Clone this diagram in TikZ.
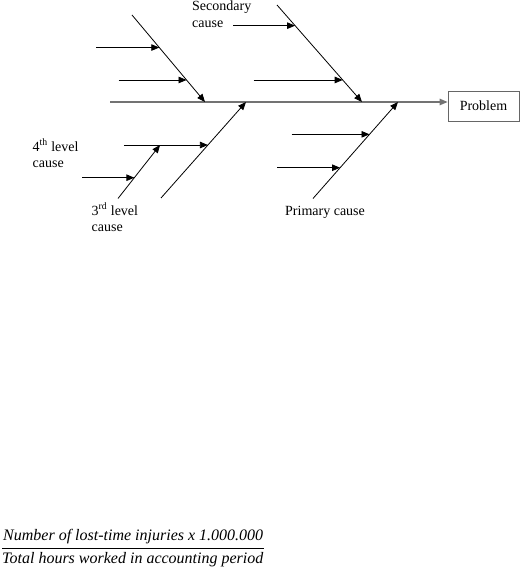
\documentclass[tikz,border=0pt]{standalone}
\usepackage{fontspec}
\setmainfont{Liberation Serif}
\usetikzlibrary{arrows.meta, positioning, calc}

\begin{document}
\begin{tikzpicture}[
    x=1pt, y=-1pt,
    spine/.style={draw=black!55, line width=1.2pt, -{Triangle[length=8pt, width=6.5pt]}},
    arr/.style={-{Triangle[length=8pt, width=6.5pt]}, line width=0.8pt},
    lbl/.style={font=\fontsize{14}{16.5}\selectfont, align=left, inner sep=0pt, anchor=base west},
    probbox/.style={
      rectangle, draw=black!60, line width=0.8pt,
      minimum width=71pt, minimum height=30pt,
      font=\fontsize{14}{16.5}\selectfont, inner sep=0pt
    },
    frac/.style={font=\fontsize{16}{18}\selectfont\itshape, inner sep=0pt, anchor=base west},
  ]
  \useasboundingbox (0,0) rectangle (522,567);

  % Head of the fish and the spine
  \node[probbox] (prob) at (483.5,106) {Problem};
  \coordinate (sp) at (110,102);
  \draw[spine] (sp) -- (sp -| prob.west);

  % Upper left bone with two causes
  \coordinate (ul-a) at (132,15);
  \coordinate (ul-b) at (205,102);
  \draw[arr] (ul-a) -- (ul-b);
  \coordinate (ul-1) at ($(ul-a)!0.374!(ul-b)$);
  \coordinate (ul-2) at ($(ul-a)!0.747!(ul-b)$);
  \draw[arr] ([xshift=-63pt]ul-1) -- (ul-1);
  \draw[arr] ([xshift=-68pt]ul-2) -- (ul-2);

  % Upper right bone (secondary causes)
  \coordinate (ur-a) at (277,5);
  \coordinate (ur-b) at (362,102);
  \draw[arr] (ur-a) -- (ur-b);
  \coordinate (ur-1) at ($(ur-a)!0.213!(ur-b)$);
  \coordinate (ur-2) at ($(ur-a)!0.773!(ur-b)$);
  \draw[arr] ([xshift=-62pt]ur-1) -- (ur-1);
  \draw[arr] ([xshift=-89pt]ur-2) -- (ur-2);

  % Lower left bone, with a 3rd and a 4th level cause
  \coordinate (ll-a) at (161,198);
  \coordinate (ll-b) at (246,102);
  \draw[arr] (ll-a) -- (ll-b);
  \coordinate (ll-1) at ($(ll-a)!0.552!(ll-b)$);
  \coordinate (ll-1s) at ([xshift=-84pt]ll-1);
  \draw[arr] (ll-1s) -- (ll-1);
  \coordinate (l3-a) at (118,198.5);
  \coordinate (l3-b) at ($(ll-1s)!0.43!(ll-1)$);
  \draw[arr] (l3-a) -- (l3-b);
  \coordinate (l3-1) at ($(l3-a)!0.389!(l3-b)$);
  \draw[arr] ([xshift=-52pt]l3-1) -- (l3-1);

  % Lower right bone (primary cause)
  \coordinate (lr-a) at (313,198.5);
  \coordinate (lr-b) at (398,102);
  \draw[arr] (lr-a) -- (lr-b);
  \coordinate (lr-1) at ($(lr-a)!0.665!(lr-b)$);
  \coordinate (lr-2) at ($(lr-a)!0.319!(lr-b)$);
  \draw[arr] ([xshift=-78pt]lr-1) -- (lr-1);
  \draw[arr] ([xshift=-63pt]lr-2) -- (lr-2);

  % Labels (base = last line)
  \node[lbl] (sec) at (192,27.2) {Secondary\\cause};
  \node[lbl] (lvl4) at (32.5,167.7) {4\textsuperscript{th} level\\cause};
  \node[lbl] (lvl3) at (91.5,231.7) {3\textsuperscript{rd} level\\cause};
  \node[lbl] (prim) at (285,215) {Primary cause};

  % Formula at the bottom
  \node[frac] (num) at (3,540) {Number of lost-time injuries x 1.000.000};
  \node[frac] (den) at (2,563.3) {Total hours worked in accounting period};
  \draw[line width=0.8pt] ([yshift=4.1pt]den.north west) -- ([yshift=4.1pt]den.north east);

\end{tikzpicture}
\end{document}
